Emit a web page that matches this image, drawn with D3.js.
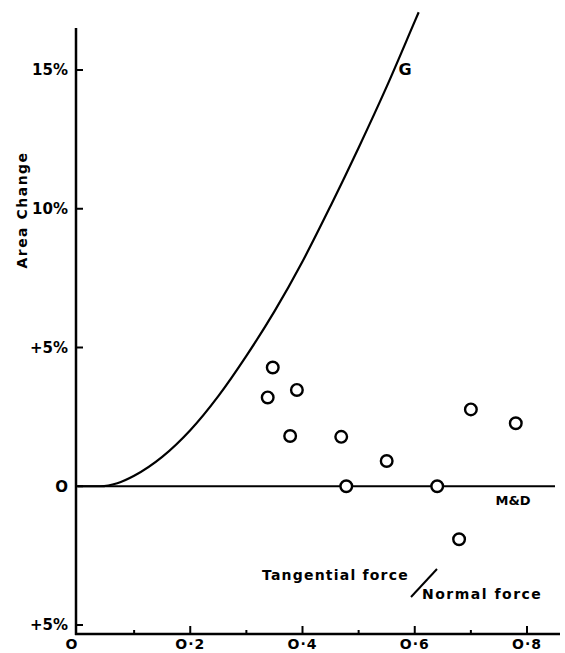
<!DOCTYPE html>
<html>
<head>
<meta charset="utf-8">
<script src="https://cdn.jsdelivr.net/npm/d3@7"></script>
<style>
  html, body { margin: 0; padding: 0; background: #fff; }
  svg { display: block; }
  text { font-family: "DejaVu Sans", sans-serif; font-weight: bold; fill: #000; }
</style>
</head>
<body>
<svg id="chart" width="565" height="653"></svg>
<script>
// Curve G: area change against force ratio
const curveX = [0, 0.04, 0.07, 0.10, 0.15, 0.20, 0.25, 0.30, 0.35, 0.40, 0.45, 0.50, 0.55, 0.60, 0.607];
const curveY = [0, 0, 0.11, 0.38, 1.06, 2.02, 3.25, 4.70, 6.30, 8.10, 10.10, 12.20, 14.40, 16.75, 17.08];

// Measured points
const pointX = [0.347, 0.338, 0.390, 0.378, 0.469, 0.550, 0.478, 0.640, 0.700, 0.780, 0.679];
const pointY = [4.28, 3.20, 3.47, 1.81, 1.78, 0.91, 0, 0, 2.77, 2.27, -1.91];

// Axis ticks and labels
const xTicks = [0, 0.2, 0.4, 0.6, 0.8];
const xTickLabels = ["O", "O·2", "O·4", "O·6", "O·8"];
const xMinorTicks = [0.1, 0.3, 0.5, 0.7];
const yTicks = [15, 10, 5, 0, -5];
const yTickLabels = ["15%", "10%", "+5%", "O", "+5%"];

const svg = d3.select("#chart");
const x = d3.scaleLinear().domain([0, 0.8]).range([78, 527]);
const y = d3.scaleLinear().domain([-5, 15]).range([625, 70]);

const axisX = 76, axisY = 634, axisTop = 28, axisRight = 560;

// Axes frame
svg.append("line").attr("x1", axisX).attr("x2", axisX).attr("y1", axisTop).attr("y2", axisY + 1)
  .attr("stroke", "#000").attr("stroke-width", 2.5);
svg.append("line").attr("x1", axisX - 1).attr("x2", axisRight).attr("y1", axisY).attr("y2", axisY)
  .attr("stroke", "#000").attr("stroke-width", 2.5);

// Y ticks (inside)
svg.selectAll(".ytick").data(yTicks).join("line")
  .attr("x1", axisX).attr("x2", axisX + 7)
  .attr("y1", d => y(d)).attr("y2", d => y(d))
  .attr("stroke", "#000").attr("stroke-width", 2);
svg.selectAll(".ylab").data(yTicks).join("text")
  .attr("x", 68).attr("y", d => y(d))
  .attr("dy", "0.36em").attr("text-anchor", "end")
  .attr("font-size", 15)
  .text((d, i) => yTickLabels[i]);

// X ticks (inside)
svg.selectAll(".xtick").data(xTicks.slice(1)).join("line")
  .attr("x1", d => x(d)).attr("x2", d => x(d))
  .attr("y1", axisY).attr("y2", axisY - 8)
  .attr("stroke", "#000").attr("stroke-width", 2);
svg.selectAll(".xminor").data(xMinorTicks).join("line")
  .attr("x1", d => x(d)).attr("x2", d => x(d))
  .attr("y1", axisY).attr("y2", axisY - 4)
  .attr("stroke", "#000").attr("stroke-width", 2);
svg.selectAll(".xlab").data(xTicks).join("text")
  .attr("x", (d, i) => i === 0 ? 72 : x(d)).attr("y", 649)
  .attr("text-anchor", "middle")
  .attr("font-size", 14)
  .attr("letter-spacing", 1)
  .text((d, i) => xTickLabels[i]);

// Axis title
svg.append("text")
  .attr("transform", "translate(27,210) rotate(-90)")
  .attr("text-anchor", "middle")
  .attr("font-size", 14)
  .attr("letter-spacing", 1.5)
  .text("Area Change");

// Zero line (M&D)
svg.append("line").attr("x1", axisX).attr("x2", 555).attr("y1", y(0)).attr("y2", y(0))
  .attr("stroke", "#000").attr("stroke-width", 2);
svg.append("text").attr("x", 513).attr("y", 505).attr("text-anchor", "middle")
  .attr("font-size", 13).text("M&D");

// Curve G
const line = d3.line().x(d => x(d[0])).y(d => y(d[1])).curve(d3.curveMonotoneX);
svg.append("path")
  .datum(curveX.map((v, i) => [v, curveY[i]]))
  .attr("d", line)
  .attr("fill", "none").attr("stroke", "#000").attr("stroke-width", 2.2);
svg.append("text").attr("x", 405).attr("y", 75).attr("text-anchor", "middle")
  .attr("font-size", 16).text("G");

// Points
svg.selectAll(".pt").data(pointX.map((v, i) => [v, pointY[i]])).join("circle")
  .attr("cx", d => x(d[0])).attr("cy", d => y(d[1])).attr("r", 5.8)
  .attr("fill", "#fff").attr("stroke", "#000").attr("stroke-width", 2.4);

// Force ratio annotation
svg.append("text").attr("x", 262).attr("y", 580).attr("font-size", 14)
  .attr("letter-spacing", 1.2).text("Tangential force");
svg.append("line").attr("x1", 411).attr("y1", 597).attr("x2", 437).attr("y2", 569)
  .attr("stroke", "#000").attr("stroke-width", 2);
svg.append("text").attr("x", 422).attr("y", 599).attr("font-size", 14)
  .attr("letter-spacing", 1.5).text("Normal force");
</script>
</body>
</html>
